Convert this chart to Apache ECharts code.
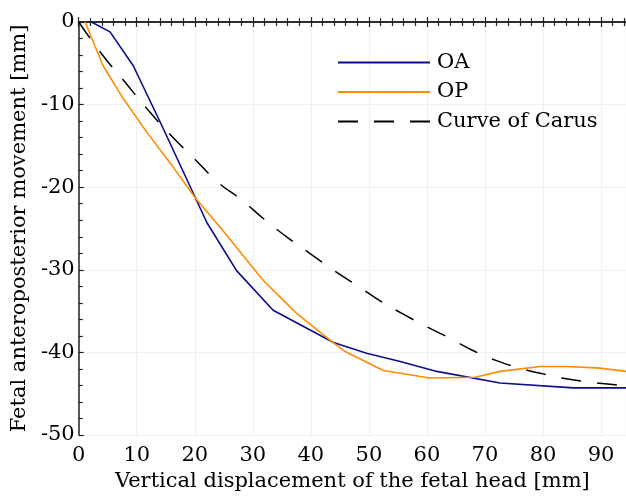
<!DOCTYPE html>
<html>
<head>
<meta charset="utf-8">
<script src="https://cdn.jsdelivr.net/npm/echarts@6/dist/echarts.min.js"></script>
<style>
  html, body { margin: 0; padding: 0; background: #fff; }
  #main { width: 626px; height: 497px; }
</style>
</head>
<body>
<div id="main"></div>
<script>
// 數據
const oaX = [2.2, 5.4, 9.4, 14.3, 22.1, 27.2, 33.5, 43.9, 49.6, 55.4, 61.7, 72.6, 85.2, 94.3];
const oaY = [0, -1.2, -5.3, -12.5, -24.3, -30.1, -34.9, -38.8, -40.1, -41.1, -42.3, -43.7, -44.3, -44.3];

const opX = [1.1, 4.2, 7.7, 11.7, 16.0, 20.1, 24.9, 31.8, 37.6, 43.3, 45.9, 52.5, 60.5, 68.3, 72.6, 79.5, 84.1, 89.8, 94.3];
const opY = [0, -5.3, -9.3, -13.3, -17.3, -21.3, -25.3, -31.3, -35.3, -38.5, -39.9, -42.2, -43.1, -43.0, -42.3, -41.7, -41.7, -41.9, -42.3];

const carusX = [0, 4, 8, 12, 16, 20, 24, 28, 32, 36, 40, 44, 48, 52, 56, 60, 64, 68, 72, 76, 80, 84, 88, 92, 94.3];
const carusY = [0, -3.9, -7.3, -10.7, -13.8, -16.6, -19.4, -21.5, -23.9, -26.1, -28.1, -30.1, -31.9, -33.8, -35.4, -36.9, -38.3, -39.8, -41.0, -41.9, -42.6, -43.2, -43.6, -43.9, -44.1];

const seriesNames = ['OA', 'OP', 'Curve of Carus'];
const xTicks = [0, 10, 20, 30, 40, 50, 60, 70, 80, 90];
const yTicks = [0, -10, -20, -30, -40, -50];

const pairs = (xs, ys) => xs.map((x, i) => [x, ys[i]]);

const chart = echarts.init(document.getElementById('main'));
const font = 'DejaVu Serif';
const axisColor = '#222';

const option = {
  animation: false,
  grid: { left: 78.7, top: 22, right: 0, bottom: 58.3 },
  legend: {
    orient: 'vertical',
    left: 337, top: 52,
    padding: 0,
    itemWidth: 92, itemHeight: 20, itemGap: 8.5,
    itemStyle: { opacity: 0 },
    data: seriesNames,
    textStyle: { fontFamily: font, fontSize: 21, color: '#000', padding: [0, 0, 0, 2] }
  },
  xAxis: [{
    type: 'value', min: 0, max: 94.3, interval: 10,
    name: 'Vertical displacement of the fetal head [mm]',
    nameLocation: 'middle', nameGap: 36,
    nameTextStyle: { fontFamily: font, fontSize: 21, color: '#000' },
    axisLine: { show: true, lineStyle: { color: axisColor, width: 1.5 } },
    axisTick: { show: true, inside: true, length: 5, lineStyle: { color: axisColor, width: 1.2 } },
    minorTick: { show: true, splitNumber: 5, length: 4, lineStyle: { color: axisColor, width: 1.2 } },
    axisLabel: { fontFamily: font, fontSize: 21, color: '#000', margin: 10, showMaxLabel: false,
      formatter: v => xTicks.includes(v) ? String(v) : '' },
    splitLine: { show: true, lineStyle: { color: '#f0f0f0', width: 1.2 } }
  }, {
    type: 'value', position: 'top', min: 0, max: 94.3, interval: 10,
    axisLine: { show: true, lineStyle: { color: axisColor, width: 1.5 } },
    axisTick: { show: true, inside: true, length: 5, lineStyle: { color: axisColor, width: 1.2 } },
    minorTick: { show: true, splitNumber: 5, length: 4, lineStyle: { color: axisColor, width: 1.2 } },
    axisLabel: { show: false },
    splitLine: { show: false }
  }],
  yAxis: {
    type: 'value', min: -50, max: 0, interval: 10,
    name: 'Fetal anteroposterior movement [mm]',
    nameLocation: 'middle', nameGap: 47,
    nameTextStyle: { fontFamily: font, fontSize: 21, color: '#000' },
    axisLine: { show: true, lineStyle: { color: axisColor, width: 1.5 } },
    axisTick: { show: true, inside: true, length: 5, lineStyle: { color: axisColor, width: 1.2 } },
    minorTick: { show: true, splitNumber: 5, length: 4, lineStyle: { color: axisColor, width: 1.2 } },
    axisLabel: { fontFamily: font, fontSize: 21, color: '#000', margin: 4,
      formatter: v => yTicks.includes(v) ? String(v) : '' },
    splitLine: { show: true, lineStyle: { color: '#f0f0f0', width: 1.2 } }
  },
  series: [
    { name: seriesNames[0], type: 'line', data: pairs(oaX, oaY), showSymbol: false, symbol: 'none',
      lineStyle: { color: '#0c0c8f', width: 1.6 }, itemStyle: { color: '#0c0c8f' } },
    { name: seriesNames[1], type: 'line', data: pairs(opX, opY), showSymbol: false, symbol: 'none',
      lineStyle: { color: '#ff8c00', width: 1.6 }, itemStyle: { color: '#ff8c00' } },
    { name: seriesNames[2], type: 'line', data: pairs(carusX, carusY), showSymbol: false, symbol: 'none', smooth: true,
      lineStyle: { color: '#000', width: 1.5, type: [20, 16] }, itemStyle: { color: '#000' } }
  ]
};
option && chart.setOption(option);
</script>
</body>
</html>
